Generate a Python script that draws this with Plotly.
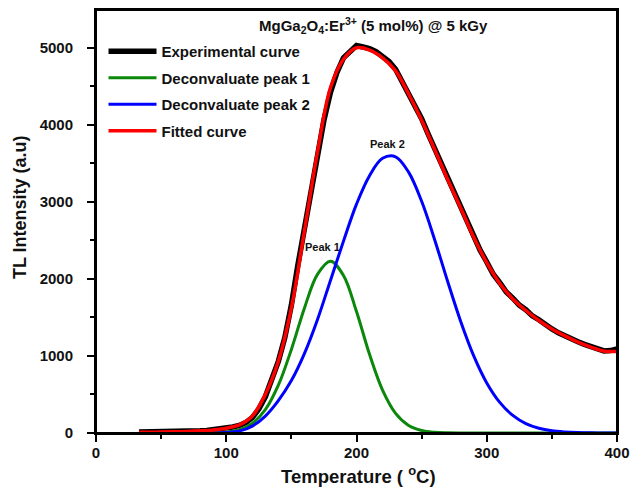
import plotly.graph_objects as go

# ---- data ----
exp_T = [33, 35, 40, 45, 50, 55, 60, 65, 70, 75, 80, 85, 90, 95, 100, 105, 110, 115, 120, 125,
         130, 135, 140, 145, 150, 155, 160, 165, 170, 175, 180, 185, 190, 195, 200, 205, 210,
         215, 220, 225, 230, 235, 240, 245, 250, 255, 260, 265, 270, 275, 280, 285, 290, 295,
         300, 305, 310, 315, 320, 325, 330, 335, 340, 345, 350, 355, 360, 365, 370, 375, 380,
         385, 390, 395, 400]
exp_I = [12, 12, 13, 12, 14, 15, 16, 18, 20, 24, 28, 33, 40, 50, 62, 78, 98, 135, 200, 310,
         470, 680, 930, 1240, 1660, 2180, 2660, 3180, 3660, 4060, 4420, 4680, 4870, 4950, 5030,
         5010, 4990, 4950, 4890, 4820, 4720, 4560, 4400, 4250, 4080, 3880, 3690, 3480, 3300,
         3100, 2930, 2740, 2550, 2370, 2220, 2060, 1950, 1830, 1750, 1660, 1600, 1520, 1470,
         1400, 1350, 1300, 1260, 1210, 1185, 1150, 1120, 1085, 1065, 1070, 1090]

fit_T = [33, 40, 50, 60, 70, 80, 90, 100, 110, 120, 130, 140, 150, 160, 170, 180, 190, 200,
         210, 220, 230, 240, 250, 260, 270, 280, 290, 300, 310, 320, 330, 340, 350, 360, 370,
         380, 390, 400]
fit_I = [10, 10, 12, 15, 20, 28, 40, 62, 105, 220, 500, 930, 1620, 2620, 3640, 4480, 4850,
         5000, 4970, 4870, 4700, 4400, 4060, 3680, 3290, 2920, 2540, 2210, 1940, 1740, 1590,
         1460, 1350, 1260, 1180, 1115, 1062, 1058]

p1_T = [40, 60, 80, 90, 100, 110, 120, 130, 140, 150, 160, 170, 180, 190, 200, 210, 220, 230,
        240, 250, 260, 270, 280, 300, 350, 400]
p1_I = [0, 0, 0, 2, 13, 44, 125, 302, 620, 1085, 1620, 2059, 2230, 2045, 1576, 1021, 556, 254,
        98, 32, 9, 2, 0, 0, 0, 0]

p2_T = [40, 60, 80, 90, 100, 110, 120, 130, 140, 150, 160, 170, 180, 190, 200, 210, 220,
        230, 240, 250, 260, 270, 280, 290, 300, 310, 320, 330, 340, 350, 360, 370, 380, 390, 400]
p2_I = [0, 0, 0, 1, 5, 25, 90, 220, 420, 680, 1030, 1470, 1980, 2490, 2970, 3340, 3565,
        3585, 3386, 3007, 2509, 1966, 1448, 1001, 650, 397, 228, 122, 62, 29, 13, 5, 2, 1, 0]

series_names = ["Experimental curve", "Deconvaluate peak 1", "Deconvaluate peak 2", "Fitted curve"]
title_text = "MgGa<sub>2</sub>O<sub>4</sub>:Er<sup>3+</sup> (5 mol%) @ 5 kGy"
x_title = "Temperature ( <sup>o</sup>C)"
y_title = "TL Intensity (a.u)"
peak_labels = ["Peak 1", "Peak 2"]
peak_label_pos = [(174, 2420), (224, 3753)]

FONT = "Liberation Sans, Arial, sans-serif"
INK = "#111111"

fig = go.Figure()
fig.add_trace(go.Scatter(x=exp_T, y=exp_I, mode="lines", name=series_names[0],
                         line=dict(color="black", width=5.5), legendgroup="a"))
fig.add_trace(go.Scatter(x=p1_T, y=p1_I, mode="lines", name=series_names[1],
                         line=dict(color="#0b870b", width=3, shape="spline"), legendgroup="b"))
fig.add_trace(go.Scatter(x=p2_T, y=p2_I, mode="lines", name=series_names[2],
                         line=dict(color="#0000ff", width=3, shape="spline"), legendgroup="c"))
fig.add_trace(go.Scatter(x=fit_T, y=fit_I, mode="lines", name=series_names[3],
                         line=dict(color="#ff0000", width=3.5, shape="spline"), legendgroup="d"))

for txt, (px, py) in zip(peak_labels, peak_label_pos):
    fig.add_annotation(x=px, y=py, text=txt, showarrow=False, xref="x", yref="y",
                       font=dict(family=FONT, size=11, color=INK, weight="bold"))

fig.add_annotation(x=0.5317, y=0.9645, xref="paper", yref="paper", text=title_text,
                   showarrow=False, xanchor="center", yanchor="middle",
                   font=dict(family=FONT, size=15, color=INK, weight="bold"))
fig.add_annotation(x=0.503, y=-0.0993, xref="paper", yref="paper", text=x_title,
                   showarrow=False, xanchor="center", yanchor="middle",
                   font=dict(family=FONT, size=18.5, color=INK, weight="bold"))
fig.add_annotation(x=-0.1459, y=0.534, xref="paper", yref="paper", text=y_title,
                   showarrow=False, xanchor="center", yanchor="middle", textangle=-90,
                   font=dict(family=FONT, size=18, color=INK, weight="bold"))

axis_common = dict(showline=True, linecolor="black", linewidth=2, mirror=True,
                   ticks="outside", ticklen=7, tickwidth=2, tickcolor="black",
                   showgrid=False, zeroline=False, automargin=False,
                   tickfont=dict(family=FONT, size=15, color=INK, weight="bold"))

fig.update_xaxes(range=[0, 400], dtick=100, tick0=0, ticklabelstandoff=-2,
                 minor=dict(ticks="outside", ticklen=4, dtick=50),
                 **axis_common)
fig.update_yaxes(range=[0, 5490], dtick=1000, tick0=0, ticklabelstandoff=11,
                 minor=dict(ticks="outside", ticklen=4, dtick=500),
                 **axis_common)

# plot frame (box around the plotting area)
fig.add_shape(type="rect", xref="paper", yref="paper", x0=0, y0=0, x1=1, y1=1,
              line=dict(color="black", width=2), layer="above")

fig.update_layout(
    width=633, height=490,
    margin=dict(l=96, r=16, t=10, b=57, autoexpand=False),
    plot_bgcolor="white", paper_bgcolor="white",
    showlegend=True,
    hovermode=False,
    legend=dict(x=0.0144, y=0.941, xanchor="left", yanchor="top",
                bgcolor="rgba(0,0,0,0)", itemwidth=48, tracegroupgap=4,
                traceorder="grouped",
                font=dict(family=FONT, size=15, color=INK, weight="bold")),
)

fig.write_html("out.html", config={"displayModeBar": False},
               post_script="document.body.style.margin='0';document.body.style.overflow='hidden';")
